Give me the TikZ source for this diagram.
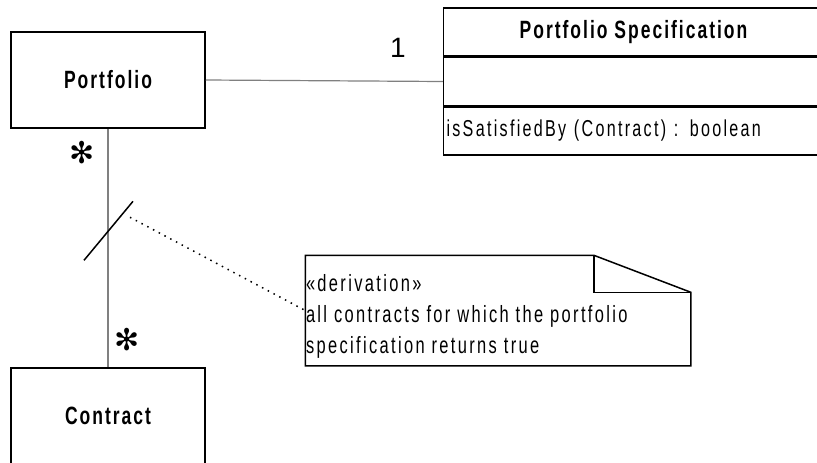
\documentclass[tikz,border=0pt]{standalone}
\usepackage{fontspec}
\setmainfont[FakeStretch=0.7,LetterSpace=10,BoldFeatures={LetterSpace=8}]{Liberation Sans}
\newfontfamily\plainsans{Liberation Sans}
\newfontfamily\dingfont{DejaVu Sans}
\usetikzlibrary{positioning,calc}

\begin{document}
\begin{tikzpicture}[x=1pt, y=-1pt, line width=1.5pt,
    cls/.style={draw=black, minimum width=194pt, minimum height=96pt, font=\fontsize{25}{28}\selectfont\bfseries},
    comp/.style={draw=black, minimum width=380pt, minimum height=48pt, inner sep=3pt, font=\fontsize{23}{26}\selectfont},
    assoc/.style={line width=1.2pt, draw=gray},
    mult/.style={inner sep=0pt, font=\plainsans\fontsize{28}{28}\selectfont},
    many/.style={inner sep=0pt, font=\dingfont\fontsize{30}{30}\selectfont},
    notetext/.style={inner sep=0pt, align=left, font=\fontsize{23.5}{31}\selectfont}]
    \useasboundingbox (0,0) rectangle (817,463);

    \node[cls] (portfolio) at (108,80) {Portfolio};
    \node[cls] (contract) at (108,416) {Contract};

    \node[comp, font=\fontsize{25}{28}\selectfont\bfseries] (specname) at (633.5,32) {Portfolio Specification};
    \node[comp, below=0pt of specname] (specattr) {};
    \node[comp, below=0pt of specattr, align=left, text width=374pt] (specops) {isSatisfiedBy (Contract) : boolean};

    \draw[assoc] (portfolio.east) -- (specattr.west);
    \draw[assoc] (portfolio.south) -- (contract.north);

    \node[mult] (one) at (398,48) {1};
    \node[many] (manyp) at (82,153) {✻};
    \node[many] (manyc) at (127,340) {✻};

    % derived association mark
    \coordinate (mid) at ($(portfolio.south)!0.43!(contract.north)$);
    \draw ([shift={(-24pt,-29pt)}]mid) -- ([shift={(25pt,30pt)}]mid);

    % note
    \node[minimum width=384pt, minimum height=109pt, inner sep=0pt] (note) at (498,310.5) {};
    \draw (note.north west) -- ([xshift=-97pt]note.north east) -- ([yshift=-37pt]note.north east)
        -- (note.south east) -- (note.south west) -- cycle;
    \draw ([xshift=-97pt]note.north east) |- ([yshift=-37pt]note.north east);
    \node[notetext, anchor=west] (notetxt) at ([yshift=-5.5pt]note.west)
        {«derivation»\\all contracts for which the portfolio\\specification returns true};
    \draw[line width=1.5pt, dash pattern=on 1.5pt off 5pt] ([shift={(22pt,14pt)}]mid) -- (note.west);
\end{tikzpicture}
\end{document}
